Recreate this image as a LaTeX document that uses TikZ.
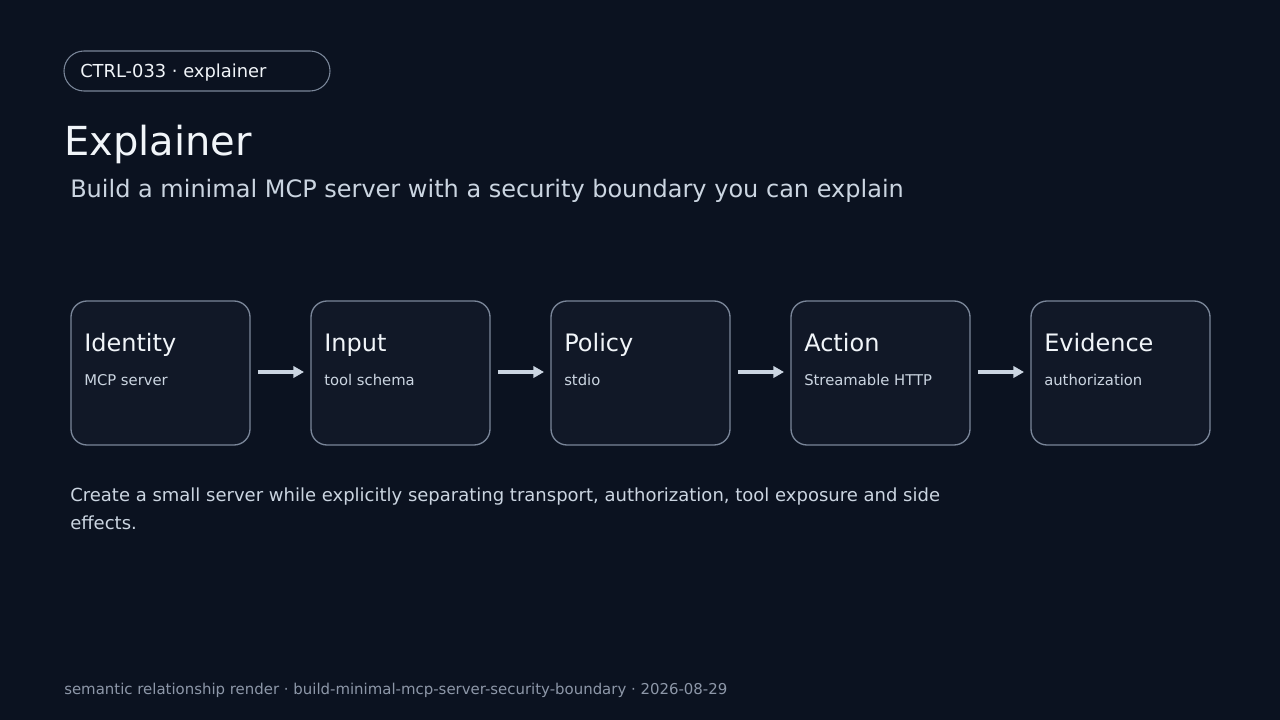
\documentclass[tikz,border=0pt]{standalone}
\usepackage{fontspec}
\setmainfont{DejaVu Sans}
\usetikzlibrary{arrows.meta}
\definecolor{bg}{HTML}{0B1220}
\definecolor{boxfill}{HTML}{111827}
\definecolor{boxline}{HTML}{7A8699}
\definecolor{txt}{HTML}{F1F5F9}
\definecolor{sub}{HTML}{CBD5E1}
\definecolor{foot}{HTML}{8D97A8}
\definecolor{arr}{HTML}{CBD5E1}
\begin{document}
\begin{tikzpicture}[x=0.75pt,y=-0.75pt,
  box/.style={draw=boxline,fill=boxfill,line width=1pt,rounded corners=12pt},
  ttl/.style={anchor=base west,text=txt,font=\fontsize{18}{20}\selectfont,inner sep=0},
  sml/.style={anchor=base west,text=sub,font=\fontsize{11.1}{13}\selectfont,inner sep=0},
  arrow/.style={draw=arr,line width=2.5pt,-{Triangle[length=8pt,width=8.5pt]}}]
\fill[bg] (0,0) rectangle (1280,720);
\draw[boxline,line width=0.8pt,fill=bg,rounded corners=15pt] (64,51) rectangle (330,91);
\node[anchor=base west,text=txt,font=\fontsize{13.4}{15}\selectfont,inner sep=0] (pill) at (80,78) {CTRL-033 · explainer};
\node[anchor=base west,text=txt,font=\fontsize{30}{34}\selectfont,inner sep=0] (title) at (64,156) {Explainer};
\node[anchor=base west,text=sub,font=\fontsize{18}{20}\selectfont,inner sep=0] (subt) at (70,198) {Build a minimal MCP server with a security boundary you can explain};
\foreach \i/\t/\s in {0/Identity/MCP server,1/Input/tool schema,2/Policy/stdio,3/Action/Streamable HTTP,4/Evidence/authorization}{
  \draw[box] (71+240*\i,301) rectangle (250+240*\i,445);
  \coordinate (b\i w) at (71+240*\i,372);
  \coordinate (b\i e) at (250+240*\i,372);
  \node[ttl] (t\i) at (84+240*\i,351) {\t};
  \node[sml] (s\i) at (84+240*\i,385) {\s};
}
\foreach \i/\j in {0/1,1/2,2/3,3/4}{
  \draw[arrow] ([xshift=8*0.75pt]b\i e) -- ([xshift=-7*0.75pt]b\j w);
}
\node[anchor=base west,text=sub,font=\fontsize{13.5}{21}\selectfont,inner sep=0,align=left] (body) at (70,529) {Create a small server while explicitly separating transport, authorization, tool exposure and side\\effects.};
\node[anchor=base west,text=foot,font=\fontsize{11.2}{13}\selectfont,inner sep=0] (footer) at (64,694) {semantic relationship render · build-minimal-mcp-server-security-boundary · 2026-08-29};
\end{tikzpicture}
\end{document}
